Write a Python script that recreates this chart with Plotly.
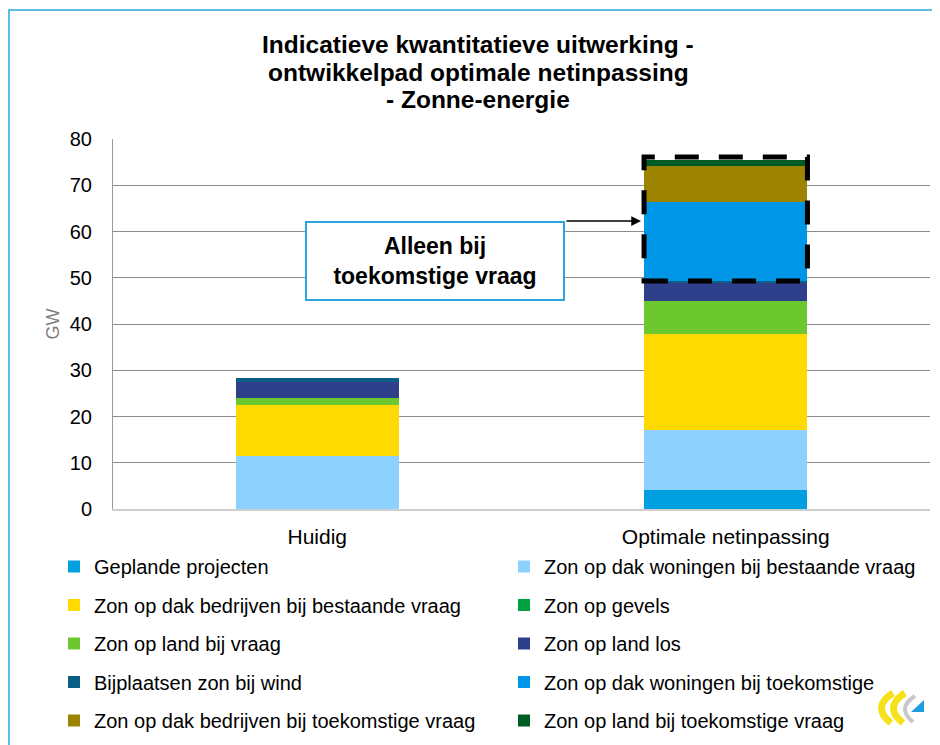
import plotly.graph_objects as go

# ---------------- data ----------------
categories = ["Huidig", "Optimale netinpassing"]

series_names = [
    "Geplande projecten",
    "Zon op dak woningen bij bestaande vraag",
    "Zon op dak bedrijven bij bestaande vraag",
    "Zon op gevels",
    "Zon op land bij vraag",
    "Zon op land los",
    "Bijplaatsen zon bij wind",
    "Zon op dak woningen bij toekomstige",
    "Zon op dak bedrijven bij toekomstige vraag",
    "Zon op land bij toekomstige vraag",
]
geplande = [0.0, 4.1]
woningen_bestaand = [11.5, 13.0]
bedrijven_bestaand = [11.0, 20.8]
gevels = [0.0, 0.0]
land_vraag = [1.6, 7.0]
land_los = [3.3, 4.0]
bijplaatsen = [0.9, 0.4]
woningen_toekomst = [0.0, 17.1]
bedrijven_toekomst = [0.0, 7.8]
land_toekomst = [0.0, 1.2]

series_values = [geplande, woningen_bestaand, bedrijven_bestaand, gevels, land_vraag,
                 land_los, bijplaatsen, woningen_toekomst, bedrijven_toekomst, land_toekomst]
series_colors = ["#009FE0", "#8DD2FF", "#FFDA00", "#00A040", "#6DC72F",
                 "#2E3F8C", "#0B5E86", "#0096E8", "#9C8400", "#005C25"]

y_ticks = [0, 10, 20, 30, 40, 50, 60, 70, 80]
title_lines = ["Indicatieve kwantitatieve uitwerking -",
               "ontwikkelpad optimale netinpassing",
               "- Zonne-energie"]

# ---------------- layout helpers ----------------
# the page shows the figure offset by the default 8px body margin; positions below
# are given in screen pixels and converted to figure/paper coordinates
OFF = 8
W, H = 940, 745
ML, MR, MT, MB = 105, 18, 131, 244
PW, PH = W - ML - MR, H - MT - MB


def px(x):
    return (x - OFF - ML) / PW


def py(y):
    return (H - MB - (y - OFF)) / PH


FONT = "Liberation Sans, Arial, sans-serif"

fig = go.Figure()
for i, (name, vals, col) in enumerate(zip(series_names, series_values, series_colors)):
    fig.add_trace(go.Bar(
        x=categories, y=vals, name=name,
        marker=dict(color=col, line=dict(width=0)),
        legend="legend" if i % 2 == 0 else "legend2",
        legendgroup=name,
        hoverinfo="name+y",
    ))

# dashed box around "future demand" part of the second bar
base_future = sum(v[1] for v in series_values[:7])
total_opt = sum(v[1] for v in series_values)
fig.add_shape(type="rect", xref="x", yref="y",
              x0=0.8, x1=1.2, y0=base_future, y1=total_opt + 0.7,
              line=dict(color="black", width=5, dash="24px,20px"),
              fillcolor="rgba(0,0,0,0)", layer="above")

# outer frame (light blue)
fig.add_shape(type="rect", xref="paper", yref="paper",
              x0=px(9), x1=px(960), y0=py(10), y1=py(770),
              line=dict(color="#29A6E0", width=1.5), layer="above")

# logo (approximate)
def P(x, y):
    return f"{px(x):.5f},{py(y):.5f}"

logo_paths = [
    (f"M{P(893,693)} Q{P(871,707)} {P(891,723)}", "#F5E21B", 7),
    (f"M{P(905,693)} Q{P(883,707)} {P(903,723)}", "#F5E21B", 7),
    (f"M{P(915,696)} Q{P(896,708)} {P(913,722)}", "#C8C8C8", 4),
]
for path, col, w in logo_paths:
    fig.add_shape(type="path", xref="paper", yref="paper", path=path,
                  line=dict(color=col, width=w))
fig.add_shape(type="path", xref="paper", yref="paper",
              path=f"M{P(911,712)} L{P(924,700)} L{P(924,712)} Z",
              fillcolor="#1E9CE0", line=dict(width=0))

# title (three lines)
for line, yc in zip(title_lines, [45, 72, 100]):
    fig.add_annotation(xref="paper", yref="paper", x=px(478), y=py(yc),
                       xanchor="center", yanchor="middle", showarrow=False,
                       text=f"<b>{line}</b>",
                       font=dict(family=FONT, size=24.5, color="black"))

# callout box and arrow
fig.add_annotation(xref="paper", yref="paper", x=px(435), y=py(221),
                   text="<b>Alleen bij<br>toekomstige vraag</b>", showarrow=False,
                   font=dict(family=FONT, size=23, color="black"),
                   bordercolor="#29A6E0", borderwidth=2, bgcolor="white",
                   width=254, height=74, align="center")
fig.add_annotation(xref="paper", yref="paper", x=px(641), y=py(221),
                   ax=-76, ay=0, text="", showarrow=True,
                   arrowhead=2, arrowsize=1.3, arrowwidth=1.5, arrowcolor="black")

fig.update_layout(
    width=W, height=H,
    margin=dict(l=ML, r=MR, t=MT, b=MB, autoexpand=False),
    paper_bgcolor="white", plot_bgcolor="white",
    barmode="stack", bargap=0.6,
    font=dict(family=FONT, size=20, color="black"),
    showlegend=True,
    legend=dict(x=px(54), y=py(547), xanchor="left", yanchor="top",
                orientation="v", tracegroupgap=9.5, font=dict(family=FONT, size=20),
                bgcolor="rgba(0,0,0,0)"),
    legend2=dict(x=px(504), y=py(547), xanchor="left", yanchor="top",
                 orientation="v", tracegroupgap=9.5, font=dict(family=FONT, size=20),
                 bgcolor="rgba(0,0,0,0)"),
)

fig.update_yaxes(range=[0, 80], tickvals=y_ticks, ticktext=[str(v) for v in y_ticks],
                 showgrid=True, gridcolor="#8C8C8C", gridwidth=1,
                 showline=True, linecolor="#9A9A9A", linewidth=1,
                 zeroline=False, ticks="", ticklabelstandoff=16,
                 tickfont=dict(family=FONT, size=20, color="black"),
                 title=dict(text="GW", font=dict(family=FONT, size=18, color="#808080"), standoff=5))
fig.update_xaxes(showline=True, linecolor="#CFCFCF", linewidth=2, ticks="",
                 tickfont=dict(family=FONT, size=21, color="black"), ticklabelstandoff=8)

fig.write_html("out.html")
